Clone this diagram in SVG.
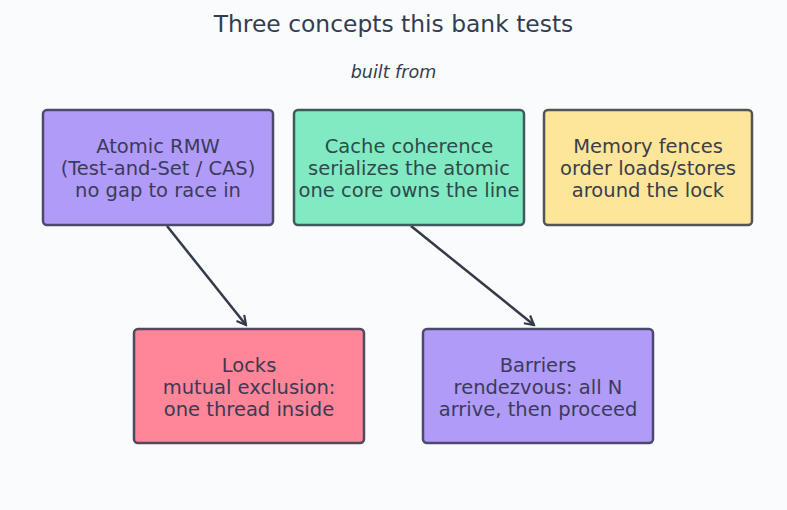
<svg xmlns="http://www.w3.org/2000/svg" width="787" height="510" viewBox="0 0 787 510">
<style>
.bg{fill:#fafbfd}
.box{stroke-width:2.5}
.t{font-family:"DejaVu Sans",sans-serif;font-size:19.5px;text-anchor:middle}
.title{font-family:"DejaVu Sans",sans-serif;font-size:23.4px;text-anchor:middle;fill:#333d4f}
.sub{font-family:"DejaVu Sans",sans-serif;font-size:17.5px;font-style:italic;text-anchor:middle;fill:#333d4f}
.edge{stroke:#333a48;stroke-width:2.5;fill:none;marker-end:url(#arr)}
</style>
<defs>
<marker id="arr" viewBox="0 0 12 12" refX="10" refY="6" markerWidth="12" markerHeight="12" markerUnits="userSpaceOnUse" orient="auto">
<path d="M1,1 L10,6 L1,11" fill="none" stroke="#333a48" stroke-width="2.2"/>
</marker>
</defs>
<rect class="bg" x="0" y="0" width="787" height="510"/>
<text class="title" x="393.5" y="32">Three concepts this bank tests</text>
<text class="sub" x="393.5" y="78">built from</text>
<g id="connectors">
<line class="edge" x1="167" y1="226" x2="246" y2="325"/>
<line class="edge" x1="411" y1="226" x2="534" y2="325"/>
</g>
<g id="atomic">
<rect class="box" x="43" y="110" width="230" height="115" rx="4" fill="#b09cf8" stroke="#4c4a6c"/>
<text class="t" fill="#3c3a5c"><tspan x="158" y="153">Atomic RMW</tspan><tspan x="158" y="175">(Test-and-Set / CAS)</tspan><tspan x="158" y="197">no gap to race in</tspan></text>
</g>
<g id="cache">
<rect class="box" x="294" y="110" width="230" height="115" rx="4" fill="#82eac2" stroke="#3e5a5c"/>
<text class="t" fill="#2e4a4c"><tspan x="409" y="153">Cache coherence</tspan><tspan x="409" y="175">serializes the atomic</tspan><tspan x="409" y="197">one core owns the line</tspan></text>
</g>
<g id="fences">
<rect class="box" x="544" y="110" width="208" height="115" rx="4" fill="#fde69a" stroke="#525558"/>
<text class="t" fill="#3a3f48"><tspan x="648" y="153">Memory fences</tspan><tspan x="648" y="175">order loads/stores</tspan><tspan x="648" y="197">around the lock</tspan></text>
</g>
<g id="locks">
<rect class="box" x="134" y="329" width="230" height="114" rx="4" fill="#ff8599" stroke="#4e4a62"/>
<text class="t" fill="#3c3a52"><tspan x="249" y="372">Locks</tspan><tspan x="249" y="394">mutual exclusion:</tspan><tspan x="249" y="416">one thread inside</tspan></text>
</g>
<g id="barriers">
<rect class="box" x="423" y="329" width="230" height="114" rx="4" fill="#b09cf8" stroke="#4c4a6c"/>
<text class="t" fill="#3c3a5c"><tspan x="538" y="372">Barriers</tspan><tspan x="538" y="394">rendezvous: all N</tspan><tspan x="538" y="416">arrive, then proceed</tspan></text>
</g>
</svg>
